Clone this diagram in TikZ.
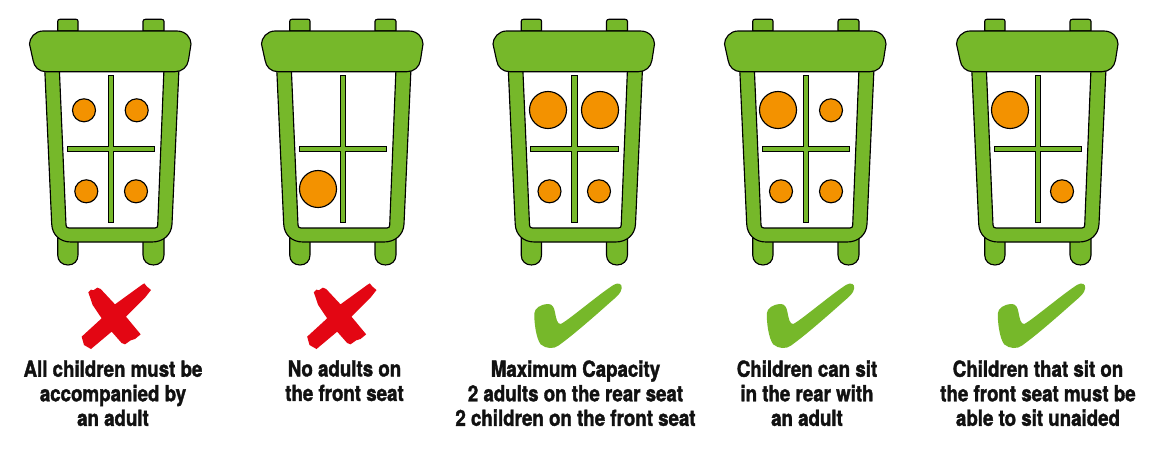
\documentclass[tikz,border=0pt]{standalone}
\usepackage{fontspec}
\setmainfont{TeX Gyre Heros}[BoldFont=* Bold,BoldFeatures={FakeStretch=0.845,FakeBold=1.6}]
\definecolor{seatgreen}{HTML}{76B82A}
\definecolor{seatorange}{HTML}{F39200}
\definecolor{crossred}{HTML}{E30613}
\definecolor{labelink}{HTML}{111111}
\tikzset{
  part/.style={fill=seatgreen,draw=black,line width=0.85pt,line join=round},
  person/.style={fill=seatorange,draw=black,line width=0.85pt},
  caption/.style={anchor=north,inner sep=0pt,align=center,text=labelink,
    font=\fontsize{16.6pt}{18.4pt}\selectfont\bfseries},
  seat/.pic={
    \draw[part] (57.7,31) -- (57.7,21.5) .. controls (57.7,20) and (58.5,19.3) .. (60,19.3) -- (76,19.3) .. controls (77.5,19.3) and (78,20) .. (78,21.5) -- (78,31) -- cycle;
    \draw[part] (143,31) -- (143,21.5) .. controls (143,20) and (144,19.3) .. (145.5,19.3) -- (161.5,19.3) .. controls (163,19.3) and (164,20) .. (164,21.5) -- (164,31) -- cycle;
    \draw[part] (57.7,238) -- (57.7,255) .. controls (57.7,261) and (62,265) .. (68,265) .. controls (74,265) and (78,261) .. (78,255) -- (78,238) -- cycle;
    \draw[part] (143,238) -- (143,255) .. controls (143,261) and (147.5,265) .. (153.5,265) .. controls (159.5,265) and (164,261) .. (164,255) -- (164,238) -- cycle;
    \draw[part,even odd rule]
      (44.7,68) -- (51.7,224) .. controls (52.2,235) and (60,242) .. (71,242) -- (152,242) .. controls (163,242) and (171.5,235) .. (172,224) -- (179,68) -- cycle
      (59.3,68) -- (66,225) .. controls (66,227) and (67,228) .. (69,228) -- (155,228) .. controls (157,228) and (157.6,227) .. (157.7,225) -- (164,68) -- cycle;
    \draw[part] (43,31) -- (177,31) .. controls (186,31) and (191,38) .. (191,44) -- (188.5,60) .. controls (187.5,67) and (182,71.7) .. (175,71.7) -- (46,71.7) .. controls (39,71.7) and (34,67) .. (33,60) -- (29.5,44) .. controls (29.5,38) and (35,31) .. (43,31) -- cycle;
    \draw[part,line join=miter,line width=0.75pt] (108.3,75.7) -- (113.7,75.7) -- (113.7,146.3) -- (154.7,146.3) -- (154.7,151.7) -- (113.7,151.7) -- (113.7,222.7) -- (108.3,222.7) -- (108.3,151.7) -- (67.3,151.7) -- (67.3,146.3) -- (108.3,146.3) -- cycle;
  },
  cross/.pic={
    \fill[crossred,xscale=1/3,yscale=1/3]
      (235,52) -- (243,44) -- (250,46) -- (262,38) -- (272,42) -- (315,88) -- (395,30) -- (403,25) -- (410,34) -- (423,45) -- (405,68) -- (348,125) -- (392,178) -- (375,192) -- (362,196) -- (345,208) -- (335,204) -- (305,170) -- (243,222) -- (222,210) -- (215,185) -- (275,130) -- (248,90) -- cycle;
  },
  tick/.pic={
    \fill[seatgreen,xscale=1/3,yscale=1/3]
      (283,115) .. controls (284,100) and (300,88) .. (325,87) .. controls (338,87) and (342,98) .. (345,112) .. controls (348,130) and (352,148) .. (362,147) .. controls (380,140) and (480,55) .. (522,29) .. controls (535,22) and (547,26) .. (545,40) .. controls (543,55) and (530,65) .. (515,78) .. controls (470,118) and (400,180) .. (355,212) .. controls (342,222) and (318,222) .. (302,208) .. controls (288,190) and (282,140) .. (283,115) -- cycle;
  }
}
\begin{document}
\begin{tikzpicture}[x=0.75pt,y=-0.75pt]
\useasboundingbox (0,0) rectangle (1162,454);
\fill[white] (0,0) rectangle (1162,454);
% seats
\pic at (0,0) {seat};
\pic at (232,0) {seat};
\pic at (463.5,0) {seat};
\pic at (695,0) {seat};
\pic at (927,0) {seat};
% seat 1
\draw[person] (84,110.3) circle[radius=11.5];
\draw[person] (136.7,110.3) circle[radius=11.5];
\draw[person] (86.3,191.3) circle[radius=11.5];
\draw[person] (136,191.3) circle[radius=11.5];
% seat 2
\draw[person] (318,189) circle[radius=18.5];
% seat 3
\draw[person] (548,110) circle[radius=18.5];
\draw[person] (600,110) circle[radius=18.5];
\draw[person] (549.5,191.3) circle[radius=11.5];
\draw[person] (599,191.3) circle[radius=11.5];
% seat 4
\draw[person] (778,110) circle[radius=18.5];
\draw[person] (831,110.3) circle[radius=11.5];
\draw[person] (781,191.3) circle[radius=11.5];
\draw[person] (831,191.3) circle[radius=11.5];
% seat 5
\draw[person] (1010,110) circle[radius=18.5];
\draw[person] (1062,191.3) circle[radius=11.5];
% marks
\pic at (10,275) {cross};
\pic at (235.5,275) {cross};
\pic at (440,275) {tick};
\pic at (672.5,275) {tick};
\pic at (903.5,275) {tick};
% captions
\node[caption] (c1) at (113,360) {All children must be\\accompanied by\\an adult};
\node[caption] (c2) at (344.5,360) {No adults on\\the front seat};
\node[caption] (c3) at (575.5,360) {Maximum Capacity\\2 adults on the rear seat\\2 children on the front seat};
\node[caption] (c4) at (807,360) {Children can sit\\in the rear with\\an adult};
\node[caption] (c5) at (1038,360) {Children that sit on\\the front seat must be\\able to sit unaided};
\end{tikzpicture}
\end{document}
